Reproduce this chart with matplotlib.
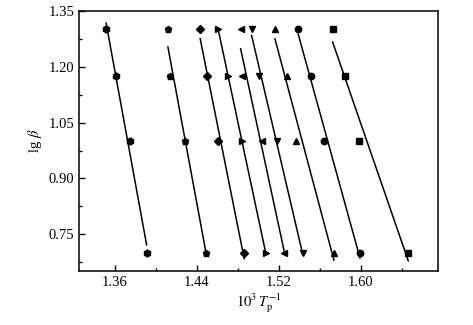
import matplotlib
matplotlib.use('Agg')
import matplotlib.pyplot as plt
import numpy as np
from matplotlib import rcParams
from matplotlib.ticker import MultipleLocator, FormatStrFormatter

rcParams['font.family'] = ['Liberation Serif', 'DejaVu Serif']
rcParams['mathtext.fontset'] = 'stix'
rcParams['font.size'] = 10

# lg(beta) for heating rates 20, 15, 10, 5 K/min
lg_beta = [1.301, 1.176, 1.000, 0.699]

# 10^3/Tp for each conversion level
x_hex = [1.3515, 1.3610, 1.3750, 1.3910]
x_pent = [1.4118, 1.4137, 1.4287, 1.4493]
x_diam = [1.4433, 1.4501, 1.4609, 1.4863]
x_right = [1.4609, 1.4707, 1.4837, 1.5075]
x_left = [1.4828, 1.4837, 1.5033, 1.5253]
x_down = [1.4935, 1.5009, 1.5179, 1.5433]
x_up = [1.5163, 1.5277, 1.5368, 1.5739]
x_circ = [1.5390, 1.5511, 1.5644, 1.5993]
x_sq = [1.5726, 1.5846, 1.5986, 1.6464]

series = [(x_hex, 'h'), (x_pent, 'p'), (x_diam, 'D'), (x_right, '>'),
          (x_left, '<'), (x_down, 'v'), (x_up, '^'), (x_circ, 'o'), (x_sq, 's')]

fig = plt.figure(figsize=(4.73, 3.25), dpi=100)
ax = fig.add_axes([0.167, 0.166, 0.758, 0.800])

y = np.array(lg_beta)
for xs, m in series:
    xs = np.array(xs)
    size = {'D': 3.8, 's': 4.2, 'h': 5.0}.get(m, 4.6)
    ax.plot(xs, y, linestyle='none', marker=m, color='black', markersize=size)
    # linear fit drawn over the data range
    b, a = np.polyfit(xs, y, 1)
    xf = np.array([xs.min(), xs.max()])
    ax.plot(xf, a + b * xf, color='black', linewidth=1.1)

ax.set_xlim(1.325, 1.675)
ax.set_ylim(0.651, 1.35)
ax.xaxis.set_minor_locator(MultipleLocator(0.04))
ax.yaxis.set_minor_locator(MultipleLocator(0.075))
ax.set_xticks([1.36, 1.44, 1.52, 1.60])
ax.set_yticks([0.75, 0.90, 1.05, 1.20, 1.35])
ax.xaxis.set_major_formatter(FormatStrFormatter('%.2f'))
ax.yaxis.set_major_formatter(FormatStrFormatter('%.2f'))

ax.tick_params(which='both', direction='in', top=False, right=False, labelsize=10.5)
ax.tick_params(which='major', length=4, width=1)
ax.tick_params(which='minor', length=2.5, width=1)
for s in ax.spines.values():
    s.set_linewidth(1.1)

ax.set_xlabel(r'$10^3\,T_{\rm p}^{-1}$', fontsize=10.5, labelpad=2)
ax.set_ylabel(r'lg $\beta$', fontsize=10.5, labelpad=3)

fig.savefig('out.png', dpi=100)
